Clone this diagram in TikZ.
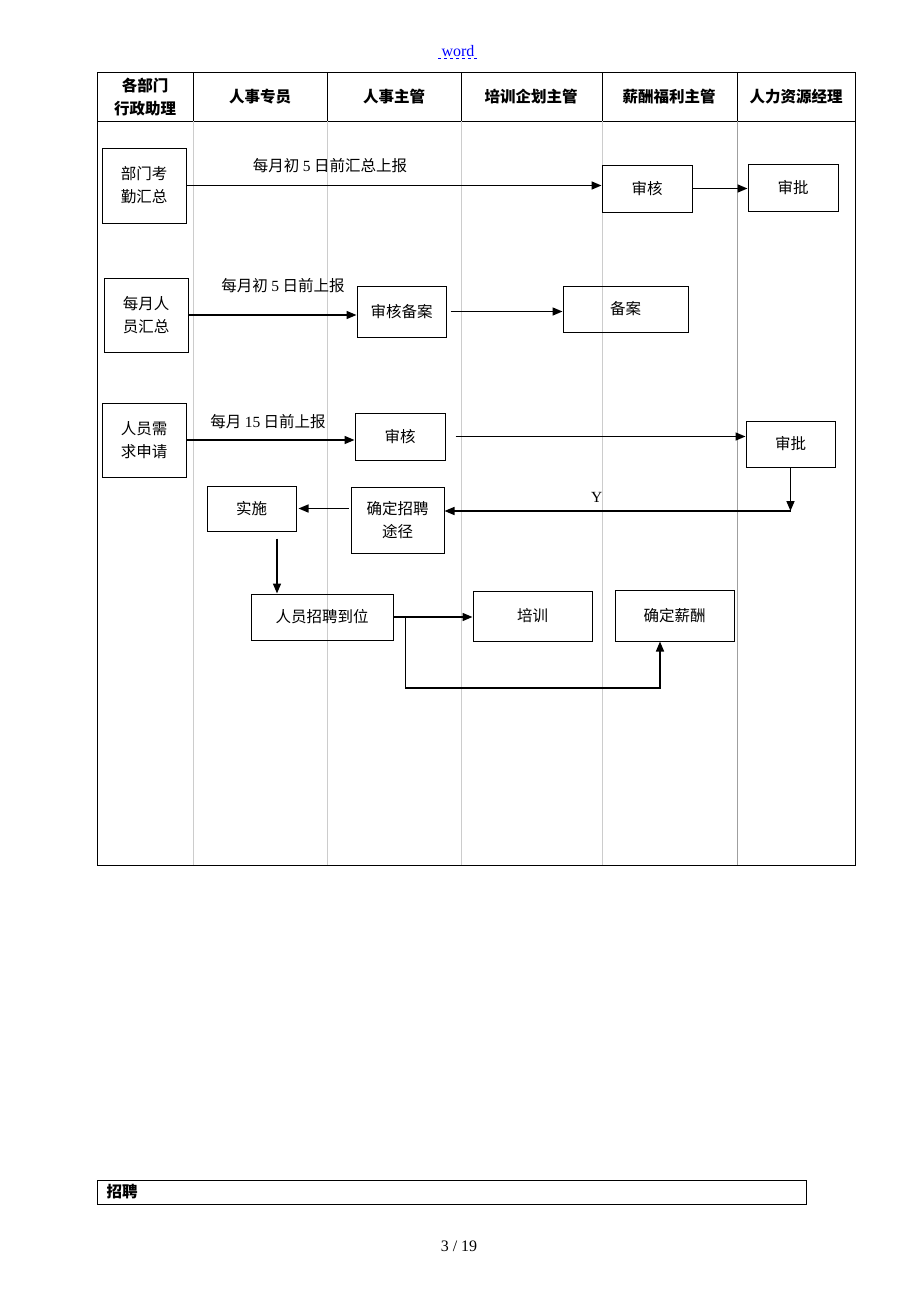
\documentclass[tikz,border=0pt]{standalone}
\usepackage{fontspec}
\setmainfont{Noto Sans CJK SC}
\newfontfamily\lat{Liberation Serif}
\usetikzlibrary{arrows.meta,positioning}

\begin{document}
\begin{tikzpicture}[x=1pt,y=-1pt,
  box/.style={draw,line width=1pt,font=\fontsize{15.5}{23}\selectfont,align=center,inner sep=0pt},
  head/.style={font=\fontsize{15.5}{23}\selectfont\bfseries,align=center},
  lane/.style={gray!40,line width=.6pt},
  flow/.style={-{Triangle[length=10pt,width=8pt]},line width=1.5pt},
  lbl/.style={font=\fontsize{15.5}{20}\selectfont}]
  \useasboundingbox (0,0) rectangle (920,1302);
  % table
  \draw[line width=.8pt] (97,72) rectangle (855,865);
  \draw[line width=.8pt] (97,121) -- (855,121);
  \foreach \x in {193,327,461,602,737} \draw[line width=.8pt] (\x,72) -- (\x,121);
  \foreach \x in {193,327,461,602} \draw[lane] (\x,121) -- (\x,865);
  \draw[gray!75,line width=.8pt] (737,121) -- (737,865);
  \node[head] (h1) at (145,97) {各部门\\行政助理};
  \node[head] (h2) at (260,97) {人事专员};
  \node[head] (h3) at (394,97) {人事主管};
  \node[head] (h4) at (531,97) {培训企划主管};
  \node[head] (h5) at (669,97) {薪酬福利主管};
  \node[head] (h6) at (796,97) {人力资源经理};
  % boxes
  \node[box,minimum width=84,minimum height=75] (kq) at (144,185.5) {部门考\\勤汇总};
  \node[box,minimum width=90,minimum height=47] (sh1) at (647,188.5) {审核};
  \node[box,minimum width=90,minimum height=47] (sp1) at (793,187.5) {审批};
  \node[box,minimum width=84,minimum height=74] (hz) at (146,315) {每月人\\员汇总};
  \node[box,minimum width=89,minimum height=51] (ba1) at (401.5,311.5) {审核备案};
  \node[box,minimum width=125,minimum height=46] (ba2) at (625.5,309) {备案};
  \node[box,minimum width=84,minimum height=74] (xq) at (144,440) {人员需\\求申请};
  \node[box,minimum width=90,minimum height=47] (sh2) at (400,436.5) {审核};
  \node[box,minimum width=89,minimum height=46] (sp2) at (790.5,444) {审批};
  \node[box,minimum width=93,minimum height=66] (qd) at (397.5,520) {确定招聘\\途径};
  \node[box,minimum width=89,minimum height=45] (ss) at (251.5,508.5) {实施};
  \node[box,minimum width=142,minimum height=46] (dw) at (322,617) {人员招聘到位};
  \node[box,minimum width=119,minimum height=50] (px) at (532.5,616) {培训};
  \node[box,minimum width=119,minimum height=51] (xc) at (674.5,615.5) {确定薪酬};
  % labels
  \node[lbl] (l1) at (330,166) {每月初 {\lat 5} 日前汇总上报};
  \node[lbl] (l2) at (283,286) {每月初 {\lat 5} 日前上报};
  \node[lbl] (l3) at (268,422) {每月 {\lat 15} 日前上报};
  % arrows
  \draw[flow] (kq.east) -- (kq.east -| sh1.west);
  \draw[flow] (sh1.east) -- (sh1.east -| sp1.west);
  \draw[flow] (hz.east) -- (hz.east -| ba1.west);
  \draw[flow,shorten <=4pt] (ba1.east) -- (ba1.east -| ba2.west);
  \draw[flow] (xq.east) -- (xq.east -| sh2.west);
  \draw[flow,shorten <=10pt] (sh2.east) -- (sh2.east -| sp2.west);
  \coordinate (yt) at (sp2.south |- 0,511);
  \draw[flow] (sp2.south) -- (yt);
  \draw[flow] (yt) -- (yt -| qd.east) node[lbl,pos=.56,above=4pt] {\lat Y};
  \draw[flow,shorten <=2pt,shorten >=2pt] (qd.west |- ss.east) -- (ss.east);
  \coordinate (sd) at ([xshift=25.5pt,yshift=-7pt]ss.south);
  \draw[flow] (sd) -- (sd |- dw.north);
  \draw[flow] (dw.east) -- (dw.east -| px.west);
  \coordinate (br) at ([xshift=12pt]dw.east);
  \coordinate (xb) at ([xshift=-14.5pt]xc.south);
  \draw[flow] (br) -- (br |- 0,688) -| (xb);
  % page bits
  \node[font=\lat\fontsize{16}{18}\selectfont,text=blue] (wd) at (458,51) {word};
  \draw[blue,dashed,line width=.6pt] ([yshift=2pt]wd.south west) -- ([yshift=2pt]wd.south east);
  \draw[line width=.8pt] (97,1180) rectangle (806,1204);
  \node[head,anchor=west] (zp) at (103,1192) {招聘};
  \node[font=\lat\fontsize{16}{18}\selectfont] (pg) at (459,1246) {3 / 19};
\end{tikzpicture}
\end{document}
